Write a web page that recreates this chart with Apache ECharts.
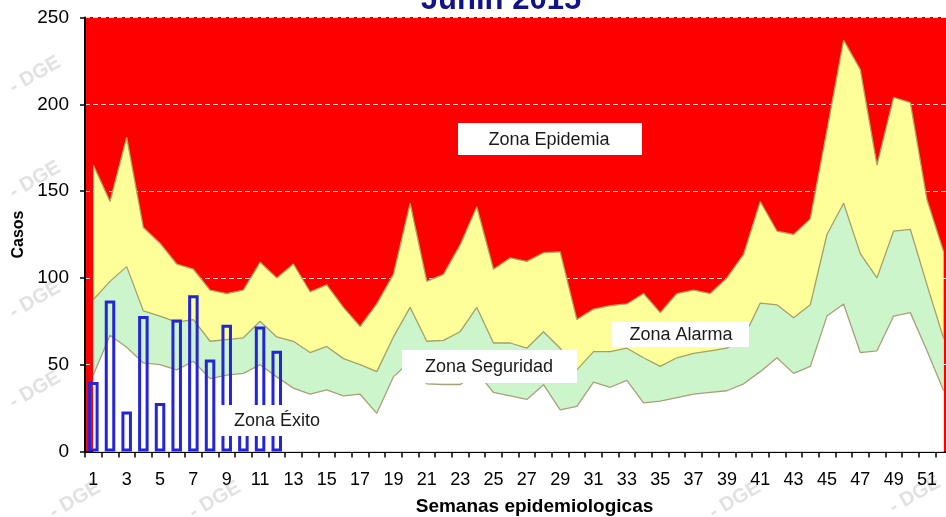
<!DOCTYPE html>
<html>
<head>
<meta charset="utf-8">
<title>Junín 2015</title>
<script src="https://cdn.jsdelivr.net/npm/echarts@6/dist/echarts.min.js"></script>
<style>
  html, body { margin: 0; padding: 0; background: #fff; }
  #chart { width: 946px; height: 517px; }
</style>
</head>
<body>
<div id="chart"></div>
<script>
// semanas epidemiologicas
var semanas = ['1', '2', '3', '4', '5', '6', '7', '8', '9', '10', '11', '12', '13',
    '14', '15', '16', '17', '18', '19', '20', '21', '22', '23', '24', '25', '26',
    '27', '28', '29', '30', '31', '32', '33', '34', '35', '36', '37', '38', '39',
    '40', '41', '42', '43', '44', '45', '46', '47', '48', '49', '50', '51', '52'];

// casos 2015 (semanas 1-12)
var casos = [40, 87, 23, 78, 28, 76, 90, 53, 73, 20, 72, 58];

// limites superiores de cada zona del canal endemico
var zonaExito = [44, 67, 60, 51, 50, 47, 52, 42, 44, 45, 50, 43, 36.5,
    33, 35.5, 32, 33, 22, 43, 52, 39, 38.5, 38.5, 46, 34, 32,
    30, 38.5, 24, 26, 40, 37, 41, 28, 29, 31, 33, 34, 35,
    39, 46, 54, 45, 49, 78, 85, 57, 58, 78, 80, 58, 35];

var zonaSeguridad = [87.5, 98, 106.5, 81, 78, 74.5, 76, 63.5, 64.5, 65.5, 75, 66, 63.5,
    57, 60.5, 53.5, 50, 46, 66, 83, 63.5, 64, 69, 83, 62.5, 62.5,
    59.5, 69, 59.5, 47, 57.5, 57.5, 59.5, 54, 49, 54, 56.5, 58, 59.5,
    65.5, 85.5, 84.5, 77, 84.5, 125, 143, 114, 100, 127, 128, 96, 65];

var zonaAlarma = [165, 144, 181, 129, 120, 108, 105, 93, 91, 93, 109, 100, 108,
    92, 96, 83, 72, 85, 102, 143, 98, 102, 119, 141, 105, 111.5,
    109.5, 114.5, 115, 76, 82, 84, 85, 91, 80, 91, 93, 91, 100,
    113.5, 144, 127, 125, 134, 185, 237, 220, 165, 204, 201, 145, 115];

var fuente = 'Arial, "Liberation Sans", sans-serif';

function etiqueta(texto, caja, cx, cy) {
    return [
        {
            type: 'rect', z: 100,
            shape: {x: caja[0], y: caja[1], width: caja[2], height: caja[3]},
            style: {fill: '#ffffff'}
        },
        {
            type: 'text', z: 101, x: cx, y: cy,
            style: {
                text: texto, font: '18px ' + fuente, fill: '#1a1a1a',
                align: 'center', verticalAlign: 'middle',
                textAlign: 'center', textVerticalAlign: 'middle'
            }
        }
    ];
}

// marca de agua "- DGE"
function marca(x, y) {
    return {
        type: 'text', z: 0, x: x, y: y, rotation: Math.PI / 6,
        style: {
            text: '- DGE', font: 'bold 20px ' + fuente, fill: 'rgba(200,200,200,0.55)',
            align: 'center', verticalAlign: 'middle',
            textAlign: 'center', textVerticalAlign: 'middle'
        }
    };
}

var chart = echarts.init(document.getElementById('chart'));

function zona(nombre, datos, relleno, borde) {
    return {
        name: nombre,
        type: 'line',
        data: datos,
        symbol: 'none',
        animation: false,
        lineStyle: {color: borde, width: 1.3},
        areaStyle: {color: relleno, opacity: 1}
    };
}

var option = {
    animation: false,
    textStyle: {fontFamily: fuente},
    grid: {
        left: 85, top: 17.5, width: 867, height: 434,
        outerBoundsMode: 'none',
        show: true, backgroundColor: '#ff0000',
        borderColor: '#333', borderWidth: 1
    },
    xAxis: {
        type: 'category',
        data: semanas,
        boundaryGap: true,
        axisLine: {lineStyle: {color: '#000', width: 2}},
        axisTick: {show: true, interval: 0, length: 6, lineStyle: {color: '#000', width: 1.5}},
        axisLabel: {interval: 1, fontSize: 18, color: '#000', margin: 20},
        splitLine: {show: false},
        name: 'Semanas epidemiologicas',
        nameLocation: 'middle',
        nameGap: 46,
        nameTextStyle: {fontSize: 19, fontWeight: 'bold', color: '#000', padding: [0, 0, 0, 32]}
    },
    yAxis: {
        type: 'value',
        min: 0, max: 250, interval: 50,
        axisLine: {show: true, lineStyle: {color: '#000', width: 2}},
        axisTick: {show: true, length: 5, lineStyle: {color: '#000', width: 1.5}},
        axisLabel: {fontSize: 19, color: '#000', margin: 16},
        splitLine: {show: true, lineStyle: {color: 'rgba(255,255,255,0.85)', type: [5, 3], width: 1}},
        name: 'Casos',
        nameLocation: 'middle',
        nameGap: 58,
        nameTextStyle: {fontSize: 16, fontWeight: 'bold', color: '#000'}
    },
    series: [
        zona('Zona Alarma', zonaAlarma, '#ffff99', '#b3a35c'),
        zona('Zona Seguridad', zonaSeguridad, '#ccf5cc', '#a3a06a'),
        zona('Zona Exito', zonaExito, '#ffffff', '#a8a07a'),
        {
            name: 'Casos',
            type: 'bar',
            data: casos,
            barWidth: 10.5,
            animation: false,
            z: 5,
            itemStyle: {color: 'rgba(0,0,0,0)', borderColor: '#2424d8', borderWidth: 3}
        }
    ],
    graphic: [
        {
            type: 'text', z: 101, x: 501, y: 0,
            style: {
                text: 'Junín 2015', font: 'bold 31px ' + fuente, fill: '#12128a',
                align: 'center', verticalAlign: 'middle',
                textAlign: 'center', textVerticalAlign: 'middle'
            }
        },
        marca(35, 75), marca(35, 180), marca(35, 300), marca(35, 390),
        marca(75, 500), marca(215, 500), marca(735, 500), marca(915, 495)
    ].concat(
        etiqueta('Zona Epidemia', [458, 123, 184, 32], 549, 140),
        etiqueta('Zona Alarma', [612, 322, 137, 25], 681, 335),
        etiqueta('Zona Seguridad', [402, 350, 175, 33], 489, 367),
        etiqueta('Zona Éxito', [220, 405, 113, 31], 277, 421)
    )
};

chart.setOption(option);
</script>
</body>
</html>
